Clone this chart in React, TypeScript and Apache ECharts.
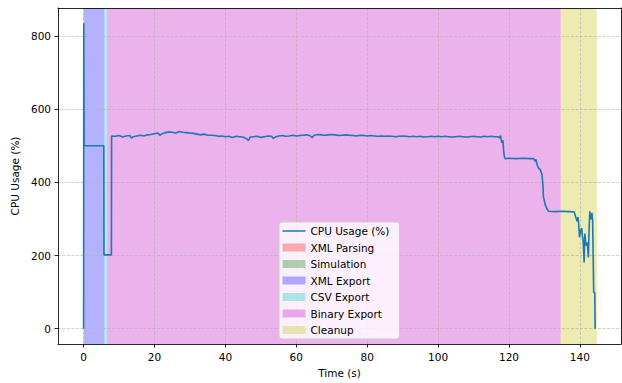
import React, { useEffect, useRef } from "react";
import * as echarts from "echarts";

// CPU usage samples [time (s), CPU %]
const startSegment: number[][] = [
  [0, 0], [0.05, 835], [0.15, 500], [5.7, 500], [5.75, 202], [7.85, 202], [7.9, 527],
];
const plateauSegment: number[][] = [
  [8, 527], [9, 526], [10, 528], [11, 524], [12, 527], [13, 528], [13.5, 521], [14, 525], [15, 527],
  [16, 529], [17, 527], [18, 530], [19, 531], [20, 533], [21, 535], [21.5, 529], [22, 532], [23, 536],
  [24, 538], [25, 537], [26, 535], [27, 539], [28, 537], [29, 536], [30, 535], [31, 534], [32, 532],
  [33, 530], [34, 532], [35, 529], [36, 529], [37, 528], [38, 526], [39, 527], [40, 525], [41, 526],
  [42, 523], [43, 526], [44, 525], [45, 524], [46, 519], [46.5, 515], [47, 524], [48, 525], [49, 526],
  [50, 523], [51, 525], [52, 527], [53, 526], [53.5, 520], [54, 524], [55, 527], [56, 528], [57, 526],
  [58, 527], [59, 529], [60, 527], [61, 528], [62, 529], [63, 530], [64, 527], [64.5, 522], [65, 529],
  [66, 531], [67, 530], [68, 529], [69, 530], [70, 531], [71, 530], [72, 528], [73, 529], [74, 530],
  [75, 529], [76, 528], [77, 527], [78, 529], [79, 528], [80, 527], [81, 528], [82, 527], [83, 526],
  [84, 527], [85, 526], [86, 527], [87, 526], [88, 525], [89, 526], [90, 527], [91, 526], [92, 525],
  [93, 526], [94, 525], [95, 526], [96, 524], [97, 525], [98, 526], [99, 525], [100, 526], [101, 525],
  [102, 526], [103, 525], [104, 524], [105, 525], [106, 526], [107, 525], [108, 524], [109, 525],
  [110, 526], [111, 525], [112, 524], [113, 526], [114, 525], [115, 526], [116, 525], [117, 525],
];
const dropSegment: number[][] = [
  [117.3, 521], [117.6, 528], [118.0, 508], [118.3, 515], [118.5, 485], [118.7, 471], [118.9, 465],
  [120, 466], [122, 465], [124, 466], [126, 465], [126.9, 465], [127.4, 458], [127.6, 463], [127.9, 449],
  [128.3, 440], [128.8, 435], [129.3, 422], [129.6, 390], [129.7, 362], [130.2, 340], [130.7, 328],
  [131.2, 321], [133, 320], [135, 321], [137, 320], [138.4, 319],
];
const endSegment: number[][] = [
  [139.2, 294], [139.5, 305], [139.7, 280], [139.9, 250], [140.2, 268], [140.5, 275], [140.7, 255],
  [140.9, 243], [141.2, 181], [141.4, 260], [141.6, 240], [141.8, 227], [142.1, 236], [142.4, 195],
  [142.6, 271], [142.8, 321], [143.0, 305], [143.1, 299], [143.4, 317], [143.6, 295], [143.9, 99],
  [144.2, 99], [144.3, 0],
];

// Phases [start, end] in seconds
const phaseNames = ["XML Parsing", "Simulation", "XML Export", "CSV Export", "Binary Export", "Cleanup"];
const phaseRanges: number[][] = [
  [0, 0.1], [0.1, 0.2], [0.2, 5.9], [5.9, 6.6], [6.6, 134.6], [134.6, 144.8],
];
const phaseColors = [
  "rgba(255,0,0,0.3)", "rgba(0,128,0,0.3)", "rgba(0,0,255,0.3)",
  "rgba(0,191,191,0.3)", "rgba(191,0,191,0.3)", "rgba(191,191,0,0.3)",
];

const xTicks = [0, 20, 40, 60, 80, 100, 120, 140];
const yTicks = [0, 200, 400, 600, 800];
const xRange = [-7.22, 151.6];
const yRange = [-41.75, 876.75];

const FONT = "DejaVu Sans";
const FS = 10.5;

export default function App() {
  const ref = useRef<HTMLDivElement>(null);
  useEffect(() => {
    if (!ref.current) return;
    const chart = echarts.init(ref.current, undefined, { renderer: "svg" });
    const cpuData = [...startSegment, ...plateauSegment, ...dropSegment, ...endSegment];

    const gridLine = { show: true, lineStyle: { color: "rgba(176,176,176,0.75)", type: [3, 1.5], width: 0.8 } };
    const axisLine = { show: true, onZero: false, lineStyle: { color: "#000", width: 0.85 } };

    const phaseSeries = phaseNames.map((name, i) => ({
      name,
      type: "custom",
      z: 1,
      silent: true,
      itemStyle: { color: phaseColors[i] },
      encode: { x: [0, 1] },
      data: [phaseRanges[i]],
      renderItem: (params: any, api: any) => {
        const cs = params.coordSys;
        const p0 = api.coord([api.value(0), 0]);
        const p1 = api.coord([api.value(1), 0]);
        return {
          type: "rect",
          shape: { x: p0[0], y: cs.y, width: Math.max(p1[0] - p0[0], 0.5), height: cs.height },
          style: { fill: phaseColors[i] },
        };
      },
    }));

    chart.setOption({
      animation: false,
      backgroundColor: "#fff",
      grid: { left: 58, right: 1, top: 8, bottom: 38, containLabel: false },
      legend: {
        orient: "vertical",
        left: 279,
        top: 222,
        padding: [3, 10, 3, 3.5],
        itemGap: 4.5,
        itemWidth: 23,
        itemHeight: 8,
        itemTextGap: 8,
        backgroundColor: "rgba(255,255,255,0.8)",
        borderColor: "#cccccc",
        borderWidth: 1,
        borderRadius: 3,
        textStyle: { fontFamily: FONT, fontSize: FS, color: "#000", lineHeight: 12 },
        data: [
          { name: "CPU Usage (%)", icon: "path://M0,0H0.01V8H0Z M0,3.2H23V4.8H0Z" },
          ...phaseNames.map((n) => ({ name: n, icon: "rect" })),
        ],
        z: 10,
      },
      xAxis: [
        {
          type: "value",
          min: xRange[0],
          max: xRange[1],
          z: 1.5,
          name: "Time (s)",
          nameLocation: "middle",
          nameGap: 23,
          nameTextStyle: { fontFamily: FONT, fontSize: FS, color: "#000" },
          axisLine,
          axisTick: { show: true, length: 3.5, customValues: xTicks, lineStyle: { color: "#000", width: 0.85 } },
          axisLabel: { customValues: xTicks, margin: 7, fontFamily: FONT, fontSize: FS, color: "#000" },
          splitLine: gridLine,
        },
        {
          type: "value",
          position: "top",
          min: xRange[0],
          max: xRange[1],
          z: 1.5,
          axisLine,
          axisTick: { show: false },
          axisLabel: { show: false },
          splitLine: { show: false },
        },
      ],
      yAxis: [
        {
          type: "value",
          min: yRange[0],
          max: yRange[1],
          z: 1.5,
          name: "CPU Usage (%)",
          nameLocation: "middle",
          nameGap: 35,
          nameTextStyle: { fontFamily: FONT, fontSize: FS, color: "#000" },
          axisLine,
          axisTick: { show: true, length: 3.5, customValues: yTicks, lineStyle: { color: "#000", width: 0.85 } },
          axisLabel: { customValues: yTicks, margin: 7, fontFamily: FONT, fontSize: FS, color: "#000" },
          splitLine: gridLine,
        },
        {
          type: "value",
          position: "right",
          min: yRange[0],
          max: yRange[1],
          z: 1.5,
          axisLine,
          axisTick: { show: false },
          axisLabel: { show: false },
          splitLine: { show: false },
        },
      ],
      series: [
        {
          name: "CPU Usage (%)",
          type: "line",
          z: 3,
          data: cpuData,
          symbol: "none",
          showSymbol: false,
          color: "#1f77b4",
          lineStyle: { color: "#1f77b4", width: 1.6 },
          silent: true,
        },
        ...phaseSeries,
      ],
    });
    return () => chart.dispose();
  }, []);
  return <div ref={ref} style={{ width: 622, height: 383, position: "absolute", left: 0, top: 0 }} />;
}
